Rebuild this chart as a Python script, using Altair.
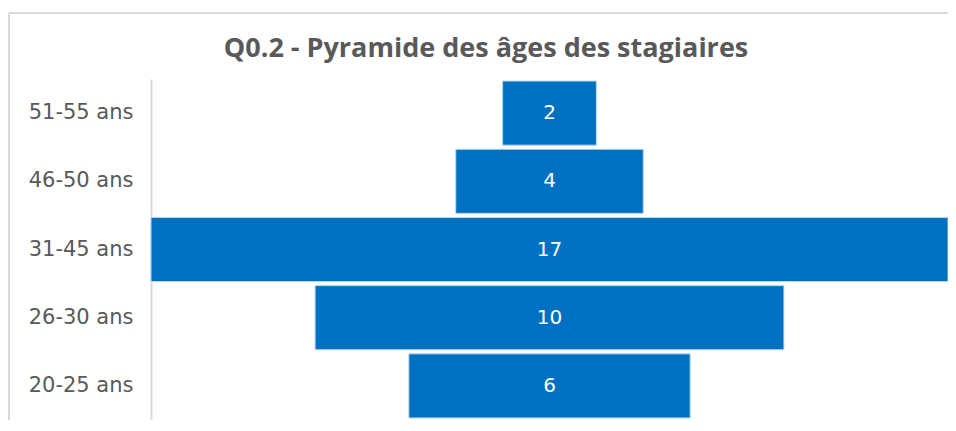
import altair as alt
import pandas as pd

categories = ["51-55 ans", "46-50 ans", "31-45 ans", "26-30 ans", "20-25 ans"]
values = [2, 4, 17, 10, 6]
title_text = "Q0.2 - Pyramide des âges des stagiaires"

df = pd.DataFrame({"age": categories, "n": values})

base = alt.Chart(df).transform_calculate(
    lo="-datum.n / 2", hi="datum.n / 2", mid="0"
)

y_enc = alt.Y(
    "age:N",
    sort=categories,
    title=None,
    scale=alt.Scale(paddingInner=0.06, paddingOuter=0.03),
    axis=alt.Axis(
        labelFont="DejaVu Sans",
        labelFontSize=21,
        labelColor="#595959",
        labelPadding=18,
        ticks=False,
        domainColor="#d9d9d9",
        domainWidth=2,
        grid=False,
    ),
)

x_scale = alt.Scale(domain=[-8.5, 8.5], nice=False, zero=False)

bars = base.mark_bar(color="#0070C0", stroke="#bdd7ee", strokeWidth=1).encode(
    x=alt.X("lo:Q", scale=x_scale, axis=None),
    x2="hi:Q",
    y=y_enc,
)

labels = base.mark_text(
    color="white", font="DejaVu Sans", fontSize=20, baseline="middle", align="center"
).encode(
    x=alt.X("mid:Q", scale=x_scale, axis=None),
    y=alt.Y("age:N", sort=categories),
    text="n:Q",
)

title_df = pd.DataFrame({"t": [title_text]})
title = alt.Chart(title_df).mark_text(
    font="Open Sans", fontSize=27, fontWeight="bold", color="#595959",
    align="center", baseline="alphabetic",
).encode(x=alt.value(335), y=alt.value(-22), text="t:N")

frame_top = alt.Chart(df).mark_rule(color="#d9d9d9", strokeWidth=1.5).encode(
    x=alt.value(-142), x2=alt.value(800), y=alt.value(-66)
)
frame_left = alt.Chart(df).mark_rule(color="#d9d9d9", strokeWidth=1.5).encode(
    x=alt.value(-142), y=alt.value(-66), y2=alt.value(360)
)

chart = alt.layer(frame_top, frame_left, title, bars, labels).properties(
    width=797,
    height=341,
    autosize=alt.AutoSizeParams(type="none"),
    padding={"left": 143, "top": 71, "right": 0, "bottom": 0},
).configure_view(stroke=None)

chart.save("out.html", embed_options={"renderer": "svg", "actions": False})
